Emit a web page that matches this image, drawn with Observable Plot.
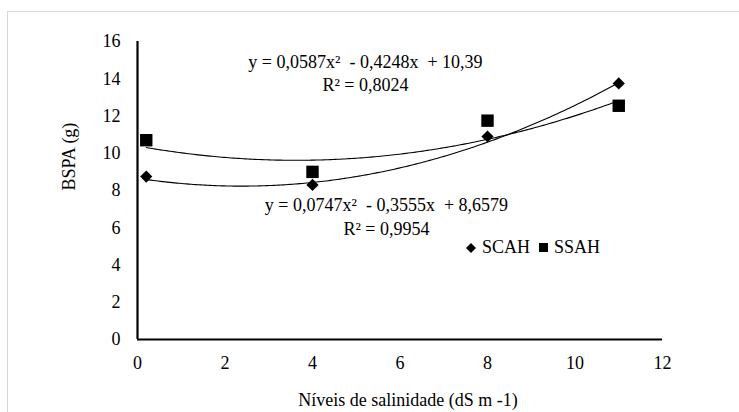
<!DOCTYPE html>
<html><head><meta charset="utf-8">
<script src="https://cdn.jsdelivr.net/npm/d3@7"></script>
<script src="https://cdn.jsdelivr.net/npm/@observablehq/plot@0.6"></script>
<style>
body{margin:0;background:#fff;}
#wrap{position:relative;width:739px;height:412px;overflow:hidden;font-family:"Liberation Serif","Times New Roman",serif;}
#frame{position:absolute;left:7px;top:11px;width:760px;height:420px;border:1px solid #d9d9d9;box-sizing:border-box;}
#chart{position:absolute;left:0;top:0;}
#chart svg, #chart svg text{font-family:"Liberation Serif","Times New Roman",serif !important;white-space:pre;}
#legend{position:absolute;left:466px;top:237px;font-size:18px;display:flex;align-items:center;color:#000;}
#legend span{display:inline-flex;align-items:center;margin-right:9px;}
#legend svg{margin-right:6px;}
</style></head>
<body><div id="wrap"><div id="frame"></div><div id="chart"></div><div id="legend"></div></div>
<script>
// Data
const salinity = [0.2, 4, 8, 11];
const scah = [8.75, 8.3, 10.9, 13.75];
const ssah = [10.7, 9.0, 11.75, 12.55];
// Trendline coefficients as printed (a, b, c for a·x² + b·x + c)
const scahCoef = [0.0747, -0.3555, 8.6579];
const ssahCoef = [0.0587, -0.4248, 10.39];
const xTicks = [0, 2, 4, 6, 8, 10, 12];
const yTicks = [0, 2, 4, 6, 8, 10, 12, 14, 16];
const seriesNames = ["SCAH", "SSAH"];
const eqSSAH = ["y = 0,0587x²  - 0,4248x  + 10,39", "R² = 0,8024"];
const eqSCAH = ["y = 0,0747x²  - 0,3555x  + 8,6579", "R² = 0,9954"];
const xTitle = "Níveis de salinidade (dS m -1)";
const yTitle = "BSPA (g)";

const pts = [];
salinity.forEach((x, i) => {
  pts.push({x, y: scah[i], s: seriesNames[0]});
  pts.push({x, y: ssah[i], s: seriesNames[1]});
});
function trend(coef) {
  const [a, b, c] = coef;
  const lo = d3.min(salinity), hi = d3.max(salinity);
  return d3.range(0, 201).map(k => {
    const x = lo + (hi - lo) * k / 200;
    return {x, y: a * x * x + b * x + c};
  });
}

const FS = 18;
const chart = Plot.plot({
  width: 739, height: 412,
  marginLeft: 137, marginRight: 77, marginTop: 41, marginBottom: 73,
  x: {domain: [0, 12]},
  y: {domain: [0, 16]},
  style: {fontFamily: "'Liberation Serif', serif", fontSize: FS + "px", background: "transparent", color: "#000"},
  marks: [
    Plot.axisX(xTicks, {tickSize: 0, tickPadding: 17, label: null, fontSize: FS}),
    Plot.axisY(yTicks, {tickSize: 0, tickPadding: 17, label: null, fontSize: FS}),
    Plot.line(trend(scahCoef), {x: "x", y: "y", stroke: "#000", strokeWidth: 1.1}),
    Plot.line(trend(ssahCoef), {x: "x", y: "y", stroke: "#000", strokeWidth: 1.1}),
    Plot.ruleY([0], {stroke: "#000", strokeWidth: 2.2}),
    Plot.ruleX([0], {stroke: "#000", strokeWidth: 2.2}),
    Plot.dot(pts.filter(d => d.s === "SSAH"), {x: "x", y: "y", symbol: "square", r: 7, fill: "#000", stroke: "none"}),
    Plot.dot(pts.filter(d => d.s === "SCAH"), {x: "x", y: "y", symbol: "diamond2", r: 5.5, fill: "#000", stroke: "none"}),
    Plot.text([eqSSAH[0]], {x: () => 5.21, y: () => 14.87, text: d => d, fontSize: FS, textAnchor: "middle"}),
    Plot.text([eqSSAH[1]], {x: () => 5.21, y: () => 13.63, text: d => d, fontSize: FS, textAnchor: "middle"}),
    Plot.text([eqSCAH[0]], {x: () => 5.69, y: () => 7.19, text: d => d, fontSize: FS, textAnchor: "middle"}),
    Plot.text([eqSCAH[1]], {x: () => 5.69, y: () => 5.9, text: d => d, fontSize: FS, textAnchor: "middle"}),
    Plot.text([xTitle], {frameAnchor: "bottom", dy: 61, dx: 8, lineAnchor: "middle", fontSize: FS}),
    Plot.text([yTitle], {frameAnchor: "left", dx: -68, rotate: -90, lineAnchor: "middle", fontSize: FS})
  ]
});
document.getElementById("chart").appendChild(chart);

// Legend
const lg = document.getElementById("legend");
const sym = {
  SCAH: '<svg width="10" height="10"><path d="M5,0L10,5L5,10L0,5Z" fill="#000"/></svg>',
  SSAH: '<svg width="9" height="9"><rect x="0" y="0" width="9" height="9" fill="#000"/></svg>'
};
seriesNames.forEach(n => {
  const s = document.createElement("span");
  s.innerHTML = sym[n] + n;
  lg.appendChild(s);
});
</script>
</body></html>
